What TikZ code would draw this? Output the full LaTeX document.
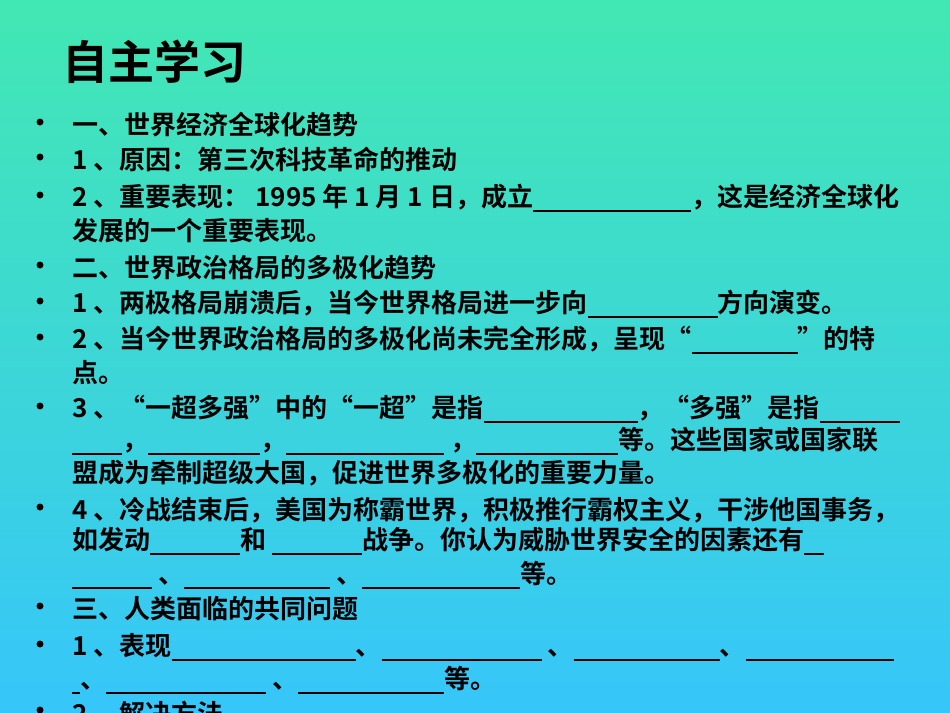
\documentclass[tikz,border=0pt]{standalone}
\usepackage{fontspec}
\newfontfamily\cjk{Noto Sans CJK SC Bold}
\newcommand{\bl}[1]{\rule[-2.5pt]{#1pt}{0.7pt}}
\tikzset{
  line/.style={anchor=west,inner sep=0pt,font=\cjk\fontsize{13}{15}\selectfont},
  dot/.style={circle,fill=black,inner sep=0pt,minimum size=3.5pt}
}
\begin{document}
\begin{tikzpicture}[x=0.5pt,y=-0.5pt]
\shade[top color={rgb,255:red,66;green,232;blue,178},bottom color={rgb,255:red,54;green,198;blue,250}] (0,0) rectangle (950,713);
\useasboundingbox (0,0) rectangle (950,713);
\node[anchor=west,inner sep=0pt,font=\cjk\fontsize{23}{26}\selectfont] (title) at (62,62) {自主学习};
\foreach \y in {125,160,198,268,304,340,409,510,609,647,713}
  \node[dot] at (40,\y-3) {};
\node[line] (l1) at (72,125) {一、世界经济全球化趋势};
\node[line] (l2) at (72,160) {1 、原因：第三次科技革命的推动};
\node[line] (l3) at (72,198) {2 、重要表现： 1995 年 1 月 1 日，成立\bl{79}，这是经济全球化};
\node[line] (l3b) at (72,231) {发展的一个重要表现。};
\node[line] (l4) at (72,268) {二、世界政治格局的多极化趋势};
\node[line] (l5) at (72,304) {1 、两极格局崩溃后，当今世界格局进一步向\bl{65}方向演变。};
\node[line] (l6) at (72,340) {2 、当今世界政治格局的多极化尚未完全形成，呈现“\bl{53}”的特};
\node[line] (l6b) at (72,373) {点。};
\node[line] (l7) at (72,409) {3 、“一超多强”中的“一超”是指\bl{77}，“多强”是指\bl{40}};
\node[line] (l7b) at (72,441) {\bl{25}，\bl{56}，\bl{79} ，\bl{71}等。这些国家或国家联};
\node[line] (l7c) at (72,473) {盟成为牵制超级大国，促进世界多极化的重要力量。};
\node[line] (l8) at (72,510) {4 、冷战结束后，美国为称霸世界，积极推行霸权主义，干涉他国事务，};
\node[line] (l8b) at (72,541) {如发动\bl{45}和 \bl{45}战争。你认为威胁世界安全的因素还有\bl{10}};
\node[line] (l8c) at (72,575) {\bl{40} 、\bl{73} 、\bl{79}等。};
\node[line] (l9) at (72,609) {三、人类面临的共同问题};
\node[line] (l10) at (72,647) {1 、表现\bl{92}、\bl{80} 、\bl{73}、\bl{74}};
\node[line] (l10b) at (72,680) {\bl{4}、\bl{80} 、\bl{73}等。};
\node[line] (l11) at (72,713) {2 、解决方法};
\end{tikzpicture}
\end{document}
